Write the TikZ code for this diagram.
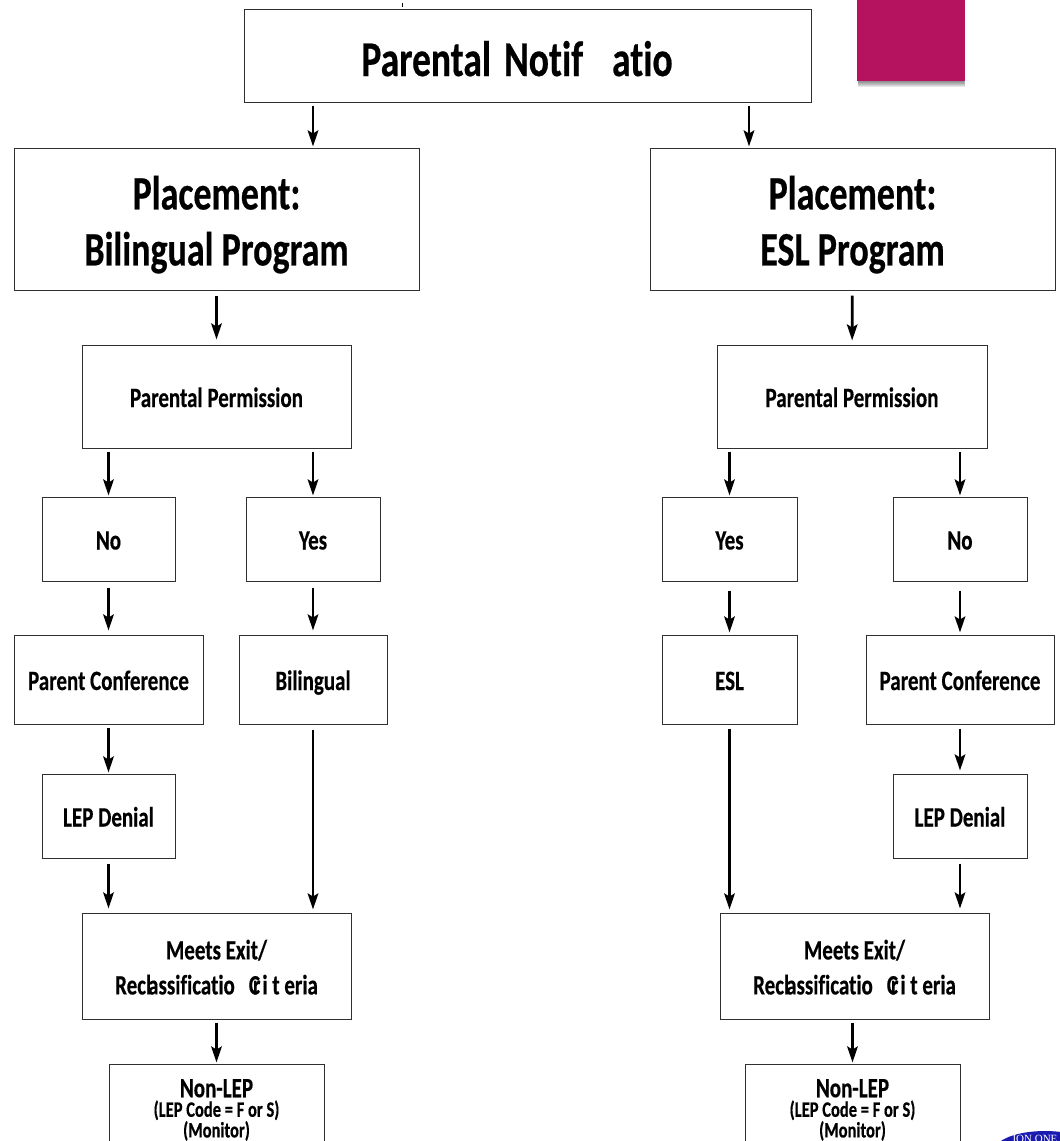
\documentclass[tikz,border=0pt]{standalone}
\usepackage{fontspec}
\setmainfont{Carlito}[Ligatures=NoCommon, BoldFeatures={FakeStretch=0.75, FakeBold=0.4}]
\newfontfamily\sealfont{Liberation Serif}
\usetikzlibrary{arrows.meta}
\definecolor{boxline}{HTML}{303030}
\definecolor{tabcolor}{HTML}{B5135F}
\definecolor{sealblue}{HTML}{1A1AB0}
\tikzset{
	flowbox/.style={draw=boxline, line width=1pt, fill=white, align=center, inner sep=0pt, font=\bfseries},
	flow/.style={-{Stealth[length=16pt, width=10.5pt, inset=3pt]}, line width=2.8pt, black, shorten <=3pt, shorten >=1pt},
	hugetext/.style={font=\bfseries\fontsize{48}{56}\selectfont},
	midtext/.style={font=\bfseries\fontsize{28}{35}\selectfont},
	onetext/.style={midtext, text height=21pt, text depth=0pt}
}
\begin{document}
\begin{tikzpicture}[x=1pt, y=-1pt]
	\clip (0, 0) rectangle (1060, 1141);

	\foreach \down in {1, 2, 3, 4, 5, 6}
		\fill[black, opacity=0.09] (858, -5) rectangle (964 + 0.2 * \down, 81 + \down);
	\fill[tabcolor] (857, -5) rectangle (965, 81);
	\draw[line width=0.6pt] (402.5, 3) -- (402.5, 7);
	\fill[sealblue] (1045, 1150) ellipse (50 and 19);
	\node[font=\sealfont\fontsize{11}{11}\selectfont, text=white, inner sep=0pt] (seal) at (1035, 1139) {ION ONE};

	\node[flowbox, font=\bfseries\fontsize{50}{56}\selectfont, text height=41pt, text depth=0pt, minimum width=567pt, minimum height=93pt] (notify) at (527.5, 55.5) {Parental\hspace{13pt}Notif\hspace{29pt}atio\hspace{21pt}};
	\node[flowbox, hugetext, minimum width=405pt, minimum height=142pt] (bilplace) at (216.5, 219) {\rule{0pt}{45pt}Placement:\\Bilingual Program};
	\node[flowbox, hugetext, minimum width=405pt, minimum height=142pt] (eslplace) at (852.5, 219) {\rule{0pt}{45pt}Placement:\\ESL Program};

	\node[flowbox, onetext, minimum width=269pt, minimum height=103pt] (permitl) at (216.5, 396.5) {Parental Permission};
	\node[flowbox, onetext, minimum width=133pt, minimum height=84pt] (nol) at (108.5, 539) {No};
	\node[flowbox, onetext, minimum width=134pt, minimum height=84pt] (yesl) at (313, 539) {Yes};
	\node[flowbox, onetext, minimum width=189pt, minimum height=89pt] (confl) at (108.5, 679.5) {Parent Conference};
	\node[flowbox, onetext, minimum width=148pt, minimum height=89pt] (bilingual) at (313, 679.5) {Bilingual};
	\node[flowbox, onetext, minimum width=133pt, minimum height=84pt] (denyl) at (108.5, 816) {LEP Denial};
	\node[flowbox, midtext, minimum width=269pt, minimum height=106pt] (exitl) at (216.5, 966) {\rule{0pt}{22pt}Meets Exit/\\Recl\kern-3pt assificatio\hspace{14pt}C\kern-7pt r\kern2pt i t eria};
	\node[flowbox, minimum width=215pt, minimum height=86pt] (nonlepl) at (216.5, 1107) {{\rule{0pt}{24pt}\fontsize{28}{21}\selectfont Non-LEP}\\[2pt]{\fontsize{22}{20}\selectfont (LEP Code = F or S)}\\{\fontsize{22}{19}\selectfont (Monitor)}};

	\node[flowbox, onetext, minimum width=270pt, minimum height=103pt] (permitr) at (852, 396.5) {Parental Permission};
	\node[flowbox, onetext, minimum width=135pt, minimum height=84pt] (yesr) at (729.5, 539) {Yes};
	\node[flowbox, onetext, minimum width=134pt, minimum height=84pt] (nor) at (960, 539) {No};
	\node[flowbox, onetext, minimum width=135pt, minimum height=89pt] (esl) at (729.5, 679.5) {ESL};
	\node[flowbox, onetext, minimum width=188pt, minimum height=89pt] (confr) at (960, 679.5) {Parent Conference};
	\node[flowbox, onetext, minimum width=134pt, minimum height=84pt] (denyr) at (960, 816) {LEP Denial};
	\node[flowbox, midtext, minimum width=269pt, minimum height=106pt] (exitr) at (854.5, 966) {\rule{0pt}{22pt}Meets Exit/\\Recl\kern-3pt assificatio\hspace{14pt}C\kern-7pt r\kern2pt i t eria};
	\node[flowbox, minimum width=215pt, minimum height=86pt] (nonlepr) at (852.5, 1107) {{\rule{0pt}{24pt}\fontsize{28}{21}\selectfont Non-LEP}\\[2pt]{\fontsize{22}{20}\selectfont (LEP Code = F or S)}\\{\fontsize{22}{19}\selectfont (Monitor)}};

	\coordinate (splitr) at (749, 125);
	\draw[flow] (notify.south -| yesl) -- (bilplace.north -| yesl);
	\draw[flow] (notify.south -| splitr) -- (eslplace.north -| splitr);

	\draw[flow, shorten <=5pt, shorten >=5pt] (bilplace) -- (permitl);
	\draw[flow] (permitl.south -| nol) -- (nol);
	\draw[flow] (permitl.south -| yesl) -- (yesl);
	\draw[flow, shorten <=6pt, shorten >=4pt] (nol) -- (confl);
	\draw[flow, shorten <=6pt, shorten >=4pt] (yesl) -- (bilingual);
	\draw[flow] (confl) -- (denyl);
	\draw[flow, shorten <=5pt, shorten >=4pt] (denyl) -- (exitl.north -| denyl);
	\draw[flow, shorten <=5pt, shorten >=3pt] (bilingual) -- (exitl.north -| bilingual);
	\draw[flow] (exitl) -- (nonlepl);

	\draw[flow, shorten <=5pt, shorten >=4pt] (eslplace) -- (permitr);
	\draw[flow] (permitr.south -| yesr) -- (yesr);
	\draw[flow] (permitr.south -| nor) -- (nor);
	\draw[flow, shorten <=9pt, shorten >=2pt] (yesr) -- (esl);
	\draw[flow, shorten <=9pt, shorten >=2pt] (nor) -- (confr);
	\draw[flow, shorten <=4pt, shorten >=3pt] (esl) -- (exitr.north -| esl);
	\draw[flow, shorten <=4pt, shorten >=3pt] (confr) -- (denyr);
	\draw[flow, shorten <=5pt, shorten >=4pt] (denyr) -- (exitr.north -| denyr);
	\draw[flow] (exitr.south -| nonlepr) -- (nonlepr);
\end{tikzpicture}
\end{document}
